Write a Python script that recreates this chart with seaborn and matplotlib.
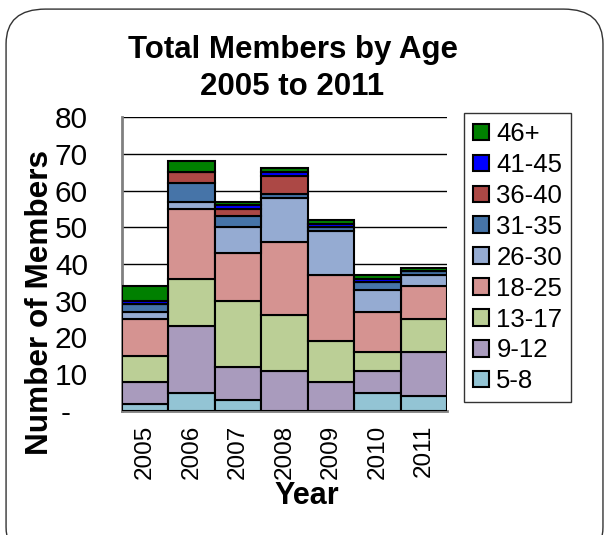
import matplotlib
matplotlib.use("Agg")
import matplotlib.pyplot as plt
from matplotlib.patches import FancyBboxPatch, Patch
import seaborn as sns
import pandas as pd
import numpy as np

years = [2005, 2006, 2007, 2008, 2009, 2010, 2011]
age_groups = ["5-8", "9-12", "13-17", "18-25", "26-30", "31-35", "36-40", "41-45", "46+"]
g_5_8 = [2, 5, 3, 0, 0, 5, 4]
g_9_12 = [6, 18, 9, 11, 8, 6, 12]
g_13_17 = [7, 13, 18, 15, 11, 5, 9]
g_18_25 = [10, 19, 13, 20, 18, 11, 9]
g_26_30 = [2, 2, 7, 12, 12, 6, 3]
g_31_35 = [2, 5, 3, 1, 1, 2, 1]
g_36_40 = [0, 3, 2, 5, 0, 0, 0]
g_41_45 = [1, 0, 1, 1, 1, 1, 0]
g_46p = [4, 3, 1, 1, 1, 1, 1]
series = [g_5_8, g_9_12, g_13_17, g_18_25, g_26_30, g_31_35, g_36_40, g_41_45, g_46p]
colors = ["#93C4D4", "#A99BBD", "#BBCF96", "#D59391", "#95ABD2",
          "#4674A8", "#AC4845", "#0000FF", "#008000"]
yticks = [0, 10, 20, 30, 40, 50, 60, 70, 80]
ytick_labels = ["-  ", "10", "20", "30", "40", "50", "60", "70", "80"]

rows = []
for ag, vals in zip(age_groups, series):
    for y, v in zip(years, vals):
        rows.append({"Year": y, "Age": ag, "Count": v})
df = pd.DataFrame(rows)

sns.set_style("white")
plt.rcParams["font.family"] = ["Liberation Sans", "DejaVu Sans"]
plt.rcParams["text.color"] = "black"
plt.rcParams["axes.labelcolor"] = "black"
plt.rcParams["xtick.color"] = "black"
plt.rcParams["ytick.color"] = "black"

fig = plt.figure(figsize=(6.06, 5.35), dpi=100)
fig.patches.append(FancyBboxPatch((0.01, -0.05), 0.985, 1.033,
                                  boxstyle="round,pad=0,rounding_size=0.065",
                                  transform=fig.transFigure, facecolor="white",
                                  edgecolor="#333333", linewidth=1.0, zorder=-10))

ax = fig.add_axes([0.2013, 0.2318, 0.5363, 0.5495])
ax.set_facecolor("none")
palette = dict(zip(age_groups, colors))
sns.histplot(data=df, x="Year", weights="Count", hue="Age",
             hue_order=age_groups[::-1], multiple="stack", discrete=True,
             shrink=1.0, palette=palette, alpha=1.0, edgecolor="black",
             linewidth=1.5, legend=False, ax=ax, zorder=3)

ax.set_xlim(years[0] - 0.5, years[-1] + 0.5)
ax.set_ylim(0, 80)
ax.set_yticks(yticks)
ax.set_yticklabels(ytick_labels, fontsize=21.5)
ax.set_xticks(years)
ax.set_xticklabels([str(y) for y in years], rotation=90, fontsize=17.5)
ax.set_xticks(np.arange(years[0] - 0.5, years[-1] + 1.0, 1.0), minor=True)
ax.tick_params(axis="x", which="major", length=0, pad=10, labelcolor="black")
ax.tick_params(axis="x", which="minor", length=7, width=1.5, color="#808080", direction="out")
ax.tick_params(axis="y", which="major", length=6.5, width=1.2, color="black",
               labelcolor="black", direction="out", pad=18)
ax.yaxis.grid(True, color="black", linewidth=1.0, zorder=0)
ax.set_axisbelow(True)
for s in ["top", "right"]:
    ax.spines[s].set_visible(False)
for s in ["left", "bottom"]:
    ax.spines[s].set_color("#808080")
    ax.spines[s].set_linewidth(2.0)
ax.set_xlabel("Year", fontsize=22, fontweight="bold", color="black")
ax.xaxis.set_label_coords(0.569, -0.238)
ax.set_ylabel("Number of Members", fontsize=22.7, fontweight="bold", color="black")
ax.yaxis.set_label_coords(-0.205, 0.369)

fig.text(0.4827, 1 - 58 / 535, "Total Members by Age", ha="center", va="baseline",
         fontsize=22.5, fontweight="bold", color="black")
fig.text(0.4827, 1 - 95 / 535, "2005 to 2011", ha="center", va="baseline",
         fontsize=22.5, fontweight="bold", color="black")

handles = [Patch(facecolor=c, edgecolor="black", linewidth=1.5) for c in colors[::-1]]
leg = fig.legend(handles, age_groups[::-1], loc="upper left",
                 bbox_to_anchor=(0.766, 0.789), fontsize=18.5, frameon=True,
                 fancybox=False, edgecolor="black", handlelength=0.6,
                 handleheight=0.6, handletextpad=0.3, labelspacing=0.27,
                 borderpad=0.35, borderaxespad=0, labelcolor="black")
leg.get_frame().set_linewidth(1.0)

fig.savefig("out.png", dpi=100)
